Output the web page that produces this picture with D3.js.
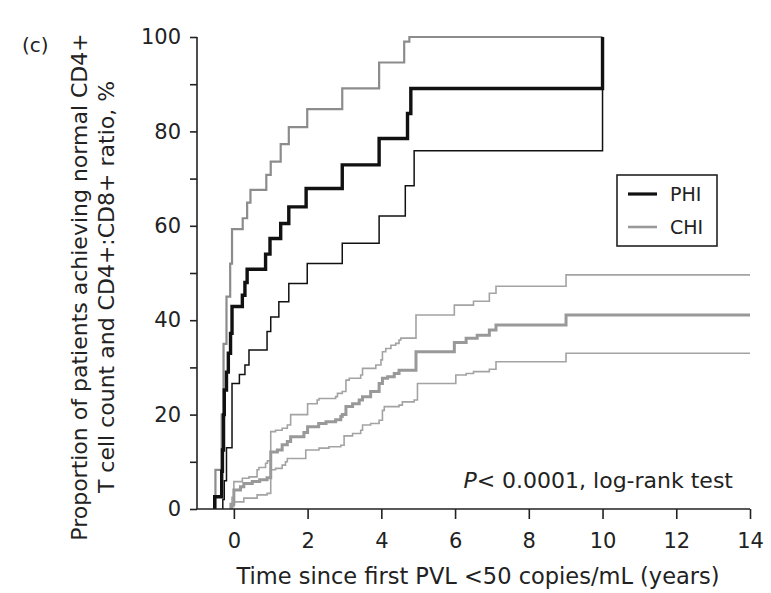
<!DOCTYPE html>
<html>
  <head>
    <meta charset="utf-8" />
    <title>Time to CD4+ normalisation, PHI vs CHI</title>
    <script src="https://cdn.jsdelivr.net/npm/d3@7"></script>
    <style>
      body {
        margin: 0;
        background: #fff;
      }
      svg {
        display: block;
        font-family: "DejaVu Sans", sans-serif;
      }
    </style>
  </head>
  <body>
    <svg id="chart" width="771" height="593"></svg>
    <script>
      // step points [years, %]
      const phiEstimate = [
        [-0.52, 0], [-0.52, 2.6], [-0.33, 8], [-0.31, 12.5], [-0.28, 20], [-0.26, 25.2],
        [-0.2, 29], [-0.15, 33], [-0.09, 37.2], [-0.05, 42.9], [0.23, 45.3], [0.3, 48],
        [0.36, 50.8], [0.86, 54], [0.98, 57.3], [1.27, 60.5], [1.49, 64], [1.96, 67.9],
        [2.94, 72.9], [3.94, 78.5], [4.71, 83.8], [4.8, 89.1], [10, 100]
      ];
      const phiLower = [
        [-0.3, 0], [-0.3, 2], [-0.26, 6], [-0.2, 13], [-0.05, 26.6], [0.15, 28.5],
        [0.3, 30.5], [0.41, 33.7], [0.9, 37.6], [1.0, 40.7], [1.22, 43.9], [1.49, 47.8],
        [1.99, 52], [2.94, 56.3], [3.94, 62.1], [4.65, 68.5], [4.89, 75.9], [10, 89.1]
      ];
      const phiUpper = [
        [-0.5, 0], [-0.5, 8.3], [-0.33, 20], [-0.28, 35], [-0.2, 45], [-0.1, 52],
        [-0.05, 59.3], [0.24, 61.6], [0.36, 64.9], [0.45, 67.6], [0.88, 70.8], [1.0, 73.6],
        [1.27, 77.3], [1.49, 80.9], [1.99, 84.7], [2.94, 89.1], [3.94, 94.6], [4.62, 99],
        [4.76, 100], [10, 100]
      ];
      const chiEstimate = [
        [-0.08, 0], [-0.08, 1], [0, 4], [0.18, 4.7], [0.27, 5.4], [0.5, 5.8], [0.7, 6.2],
        [0.9, 6.6], [1.0, 12.1], [1.18, 12.5], [1.31, 13.6], [1.45, 14.3], [1.54, 15.3],
        [1.9, 16.2], [2.0, 17.4], [2.3, 18.1], [2.5, 18.5], [2.76, 18.9], [2.9, 19.6],
        [2.94, 20], [3.04, 21.7], [3.22, 22.3], [3.4, 23.1], [3.49, 23.8], [3.71, 24.9],
        [3.94, 26.6], [4.03, 27.7], [4.17, 28], [4.35, 28.7], [4.48, 29.4], [4.94, 33.3],
        [5.98, 35.3], [6.3, 36.2], [6.6, 36.8], [6.93, 37.9], [7.11, 39], [9.01, 41.1],
        [14, 41.1]
      ];
      const chiLower = [
        [-0.05, 0], [-0.05, 0.5], [0, 1.5], [0.27, 2.3], [0.63, 3], [0.9, 3.3], [1.0, 8.3],
        [1.13, 8.6], [1.31, 9.3], [1.4, 10], [1.45, 10.7], [1.95, 12.5], [2.31, 12.9],
        [2.58, 13.2], [2.9, 13.5], [2.99, 15.5], [3.22, 16], [3.44, 16.7], [3.49, 17.8],
        [3.71, 18.1], [3.94, 18.8], [4.03, 20.9], [4.08, 21.7], [4.48, 22], [4.57, 22.7],
        [4.89, 23.1], [4.98, 26.6], [6.02, 28.4], [6.3, 28.7], [6.5, 29.1], [6.93, 29.6],
        [7.11, 31.2], [9.01, 33], [14, 33]
      ];
      const chiUpper = [
        [-0.05, 0], [-0.05, 2.5], [0, 5.8], [0.23, 6.5], [0.41, 6.8], [0.63, 8.3],
        [0.68, 8.8], [0.86, 9.7], [0.91, 10.2], [1.0, 16.4], [1.13, 16.7], [1.31, 17.1],
        [1.45, 17.8], [1.54, 20], [2.0, 22.3], [2.26, 23.1], [2.31, 23.4], [2.76, 23.8],
        [2.81, 24.5], [2.94, 24.9], [3.04, 27.3], [3.13, 27.7], [3.44, 28.4], [3.49, 29.8],
        [3.85, 30.5], [3.99, 31.6], [4.03, 33.3], [4.12, 34], [4.26, 34.7], [4.39, 35.1],
        [4.48, 35.8], [4.53, 36.2], [4.94, 41.1], [5.98, 43.2], [6.5, 44], [6.93, 45.7],
        [7.11, 47.2], [9.01, 49.6], [14, 49.6]
      ];

      const xTicks = [0, 2, 4, 6, 8, 10, 12, 14];
      const yTicks = [0, 10, 20, 30, 40, 50, 60, 70, 80, 90, 100];
      const legendLabels = ["PHI", "CHI"];

      const margin = { top: 37, right: 21, bottom: 84, left: 197 };
      const svg = d3.select("#chart");
      const W = +svg.attr("width") - margin.left - margin.right;
      const H = +svg.attr("height") - margin.top - margin.bottom;

      const x = d3.scaleLinear().domain([-1, 14]).range([0, W]);
      const y = d3.scaleLinear().domain([0, 100]).range([H, 0]);

      const g = svg
        .append("g")
        .attr("transform", `translate(${margin.left},${margin.top})`);

      const line = d3
        .line()
        .x((d) => x(d[0]))
        .y((d) => y(d[1]))
        .curve(d3.curveStepAfter);

      // CHI first so PHI sits on top
      const series = [
        { data: chiLower, color: "#a3a3a3", width: 1.6 },
        { data: chiUpper, color: "#a3a3a3", width: 1.6 },
        { data: chiEstimate, color: "#999", width: 3 },
        { data: phiUpper, color: "#8c8c8c", width: 2.2 },
        { data: phiLower, color: "#111", width: 1.5 },
        { data: phiEstimate, color: "#111", width: 3.4 },
      ];

      g.selectAll("path.km")
        .data(series)
        .join("path")
        .attr("class", "km")
        .attr("fill", "none")
        .attr("stroke", (d) => d.color)
        .attr("stroke-width", (d) => d.width)
        .attr("d", (d) => line(d.data));

      // axes
      const yAxis = g
        .append("g")
        .call(
          d3
            .axisLeft(y)
            .tickValues(yTicks)
            .tickSize(7)
            .tickPadding(9)
            .tickFormat((d) => (d % 20 === 0 ? d : ""))
        );
      const xAxis = g
        .append("g")
        .attr("transform", `translate(0,${H})`)
        .call(
          d3.axisBottom(x).tickValues(xTicks).tickSize(10).tickPadding(14)
        );

      [yAxis, xAxis].forEach((a) => {
        a.select(".domain").attr("stroke", "#222").attr("stroke-width", 1.6);
        a.selectAll(".tick line").attr("stroke", "#222").attr("stroke-width", 1.6);
        a.selectAll(".tick text")
          .attr("fill", "#222")
          .style("font-size", "21px")
          .style("font-family", "DejaVu Sans, sans-serif");
      });
      // axisLeft draws a domain with outer ticks; keep it a plain line
      yAxis.select(".domain").attr("d", `M0,${H}V0`);
      xAxis.select(".domain").attr("d", `M0,0H${W}`);

      // titles
      svg
        .append("text")
        .attr("x", 478)
        .attr("y", 584)
        .attr("text-anchor", "middle")
        .attr("fill", "#222")
        .style("font-size", "22.5px")
        .text("Time since first PVL <50 copies/mL (years)");

      const yTitle = svg
        .append("text")
        .attr("transform", "translate(0,287) rotate(-90)")
        .attr("text-anchor", "middle")
        .attr("fill", "#222")
        .style("font-size", "22px");
      yTitle.append("tspan").attr("x", 0).attr("y", 87)
        .text("Proportion of patients achieving normal CD4+");
      yTitle.append("tspan").attr("x", 0).attr("y", 114)
        .text("T cell count and CD4+:CD8+ ratio, %");

      svg
        .append("text")
        .attr("x", 22)
        .attr("y", 52)
        .attr("fill", "#222")
        .style("font-size", "20px")
        .text("(c)");

      // p-value note
      const note = svg
        .append("text")
        .attr("x", 733)
        .attr("y", 488)
        .attr("text-anchor", "end")
        .attr("fill", "#222")
        .style("font-size", "22px");
      note.append("tspan").style("font-style", "italic").text("P");
      note.append("tspan").text("< 0.0001, log-rank test");

      // legend
      const legend = svg.append("g").attr("transform", "translate(617,175)");
      legend
        .append("rect")
        .attr("width", 100)
        .attr("height", 71)
        .attr("fill", "#fff")
        .attr("stroke", "#222")
        .attr("stroke-width", 1.6);
      const legendColors = ["#111", "#999"];
      const legendWidths = [3.2, 2.6];
      legendLabels.forEach((lab, i) => {
        const ly = 19 + i * 33;
        legend
          .append("line")
          .attr("x1", 11)
          .attr("x2", 40)
          .attr("y1", ly)
          .attr("y2", ly)
          .attr("stroke", legendColors[i])
          .attr("stroke-width", legendWidths[i]);
        legend
          .append("text")
          .attr("x", 53)
          .attr("y", ly)
          .attr("dy", "0.35em")
          .attr("fill", "#222")
          .style("font-size", "19px")
          .text(lab);
      });
    </script>
  </body>
</html>
